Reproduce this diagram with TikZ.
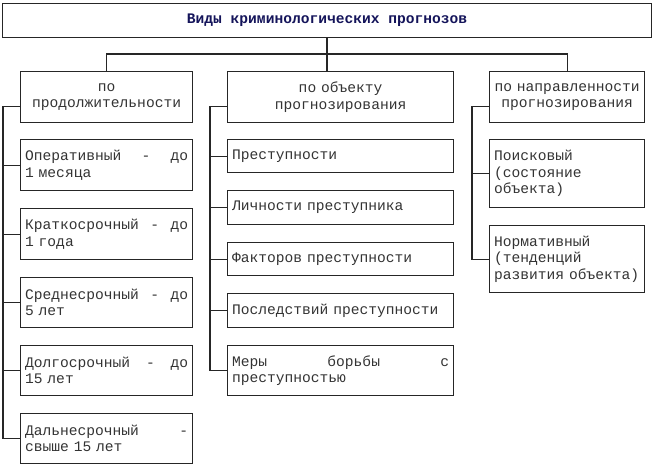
\documentclass[tikz,border=0pt]{standalone}
\usepackage{fontspec}
\setmainfont{Liberation Mono}
\definecolor{navy}{RGB}{20,20,90}
\begin{document}
\begin{tikzpicture}[x=1pt,y=-1pt,
  box/.style={draw=black!85,line width=1.2pt,anchor=north west,inner sep=0pt,font=\fontsize{14.6}{16.5}\selectfont,text=black!80},
  ln/.style={draw=black!85,line width=1.2pt}]
\useasboundingbox (0,0) rectangle (654,467);
\newcommand\bx[6]{\node[box,minimum width={#4-#2},minimum height={#5-#3},text width={#4-#2-9},align=left] (#1) at (#2,#3) {#6};}
\newcommand\bxc[6]{\node[box,minimum width={#4-#2},minimum height={#5-#3},text width={#4-#2-9},align=center] (#1) at (#2,#3) {#6};}
\node[box,minimum width=649,minimum height=34,text=navy,font=\bfseries\fontsize{14.6}{16}\selectfont] (t) at (2,3) {Виды криминологических прогнозов};
\bxc{h1}{20}{71}{192}{122}{по\\продолжительности}
\bxc{h2}{227}{71}{453}{122}{по объекту\\прогнозирования}
\bxc{h3}{489}{71}{644}{122}{по направленности\\прогнозирования}
\bx{a1}{20}{139}{192}{190}{Оперативный\hfill-\hfill до\\1 месяца}
\bx{a2}{20}{208}{192}{259}{Краткосрочный\hfill-\hfill до\\1 года}
\bx{a3}{20}{277}{192}{327}{Среднесрочный\hfill-\hfill до\\5 лет}
\bx{a4}{20}{345}{192}{395}{Долгосрочный\hfill -\hfill до\\15 лет}
\bx{a5}{20}{413}{192}{463}{Дальнесрочный\hfill -\\свыше 15 лет}
\bx{b1}{227}{139}{453}{172}{Преступности}
\bx{b2}{227}{190}{453}{224}{Личности преступника}
\bx{b3}{227}{242}{453}{275}{Факторов преступности}
\bx{b4}{227}{293}{453}{327}{Последствий преступности}
\bx{b5}{227}{345}{453}{395}{Меры\hfill борьбы\hfill с\\преступностью}
\bx{c1}{489}{139}{644}{207}{Поисковый\\(состояние\\объекта)}
\bx{c2}{489}{225}{644}{292}{Нормативный\\(тенденций\\развития объекта)}
\coordinate (m) at (327,54);
\draw[ln] (t.south -| m) -- (h2.north -| m);
\draw[ln] (h1.north) |- (m) -| (h3.north);
\draw[ln] ([yshift=-9]h1.west) -- ++(-17,0) coordinate (l0);
\foreach \n in {a1,a2,a3,a4,a5} \draw[ln] (l0) |- (\n.west);
\draw[ln] ([yshift=-9]h2.west) -- ++(-17,0) coordinate (m0);
\foreach \n in {b1,b2,b3,b4,b5} \draw[ln] (m0) |- (\n.west);
\draw[ln] ([yshift=-9]h3.west) -- ++(-17,0) coordinate (r0);
\foreach \n in {c1,c2} \draw[ln] (r0) |- (\n.west);
\end{tikzpicture}
\end{document}
